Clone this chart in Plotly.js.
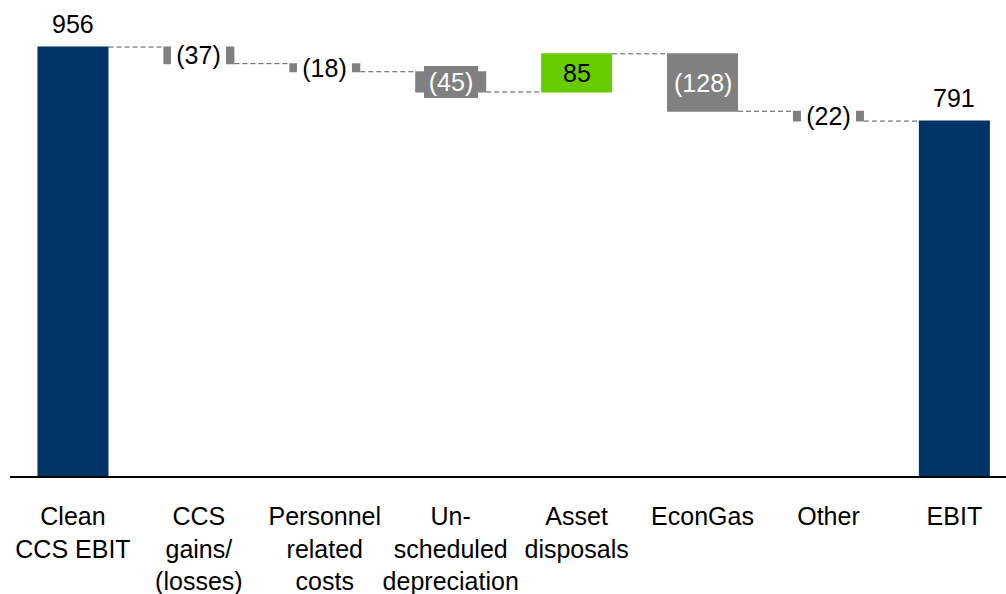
<!DOCTYPE html>
<html>
<head>
<meta charset="utf-8">
<script src="https://cdn.plot.ly/plotly-3.0.1.min.js"></script>
<style>html,body{margin:0;padding:0;background:#fff;}#chart{width:1006px;height:594px;}</style>
</head>
<body>
<div id="chart"></div>
<script>
const categories = ["Clean<br>CCS EBIT", "CCS<br>gains/<br>(losses)", "Personnel<br>related<br>costs", "Un-<br>scheduled<br>depreciation", "Asset<br>disposals", "EconGas", "Other", "EBIT"];
const values = [956, -37, -18, -45, 85, -128, -22, 791];
const measures = ["absolute", "relative", "relative", "relative", "relative", "relative", "relative", "absolute"];

const NAVY = "#003466", GRAY = "#808080", GREEN = "#66cc00";
const FONT = "Liberation Sans, Arial, sans-serif";
const FS = 25;

const x = categories.map((c, i) => i);

const trace = {
  type: "waterfall",
  x: x,
  y: values,
  measure: measures,
  width: 0.564,
  textinfo: "none",
  hoverinfo: "none",
  increasing: {marker: {color: GREEN}},
  decreasing: {marker: {color: GRAY}},
  totals: {marker: {color: NAVY}},
  connector: {mode: "between", line: {color: "#555555", width: 1, dash: "5px,3px"}}
};

const fmt = v => v < 0 ? "(" + Math.abs(v) + ")" : String(v);

const annotations = [];
let running = 0;
values.forEach((v, i) => {
  if (measures[i] === "absolute") {
    running = v;
    annotations.push({x: i, y: v, xref: "x", yref: "y", text: fmt(v), showarrow: false,
      yanchor: "bottom", yshift: 7, font: {family: FONT, size: FS, color: "#000"}});
  } else {
    const start = running, end = running + v;
    running = end;
    const mid = (start + end) / 2;
    const font = {family: FONT, size: FS, color: "#000"};
    const ann = {x: i, y: mid, xref: "x", yref: "y", text: fmt(v), showarrow: false,
      yanchor: "middle", xanchor: "center", borderpad: 0, borderwidth: 0, font: font};
    if (v < 0 && Math.abs(v) >= 100) {
      font.color = "#fff";
    } else if (v < 0 && Math.abs(v) >= 40) {
      font.color = "#fff"; ann.bgcolor = GRAY; ann.width = 54; ann.height = 32;
    } else if (v < 0) {
      ann.bgcolor = "#fff"; ann.width = 55; ann.height = 32;
    }
    annotations.push(ann);
  }
});

const layout = {
  width: 1006, height: 594,
  margin: {l: 10, r: 0, t: 10, b: 118},
  paper_bgcolor: "#fff", plot_bgcolor: "#fff",
  showlegend: false,
  font: {family: FONT, size: FS, color: "#000"},
  xaxis: {
    range: [-0.5, 7.41], tickmode: "array", tickvals: x, ticktext: categories, tickangle: 0,
    showline: true, linecolor: "#000", linewidth: 2, ticks: "", showgrid: false, zeroline: false,
    tickfont: {family: FONT, size: FS, color: "#000"}, ticklabelstandoff: 17, fixedrange: true
  },
  yaxis: {range: [0, 1038.6], visible: false, showgrid: false, zeroline: false, fixedrange: true},
  annotations: annotations
};

Plotly.newPlot("chart", [trace], layout, {displayModeBar: false, staticPlot: true});
</script>
</body>
</html>
